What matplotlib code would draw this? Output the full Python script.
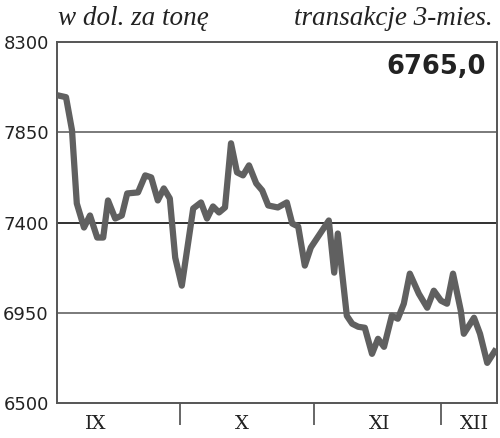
import matplotlib
matplotlib.use("Agg")
import matplotlib.pyplot as plt

# trading-day positions and prices (USD per tonne)
days = [0, 1.5, 2.5, 3.3, 4.5, 5.5, 6.7, 7.7, 8.5, 9.7, 10.8, 11.7, 13.5, 14.7, 15.7,
        16.8, 17.8, 18.8, 19.7, 20.8, 22.7, 24, 25, 26, 27, 28, 29, 30, 31, 32,
        33.2, 34.2, 35.2, 36.8, 38.3, 39.2, 40.2, 41.3, 42.3, 45.3, 46.2, 46.8,
        48.3, 49.2, 50.2, 51.3, 52.5, 53.5, 54.5, 55.8, 56.8, 57.8, 58.8, 60.3,
        61.7, 62.8, 64, 65, 66, 67.3, 67.8, 69.5, 70.5, 71.7, 73.2]
prices = [8035, 8025, 7860, 7495, 7375, 7435, 7325, 7325, 7510, 7420, 7435, 7545, 7550, 7635, 7625,
          7510, 7570, 7520, 7225, 7085, 7470, 7500, 7420, 7480, 7450, 7475, 7795, 7650, 7635, 7685,
          7595, 7560, 7485, 7475, 7500, 7395, 7380, 7185, 7275, 7410, 7150, 7345,
          6935, 6895, 6880, 6875, 6745, 6820, 6780, 6935, 6920, 6995, 7145, 7045,
          6975, 7060, 7010, 6995, 7145, 6960, 6845, 6925, 6845, 6700, 6770]

month_labels = ["IX", "X", "XI", "XII"]
month_label_pos = [6.5, 30.8, 53.8, 69.5]
month_bounds = [20.5, 42.83, 64]
y_ticks = [6500, 6950, 7400, 7850, 8300]
last_value = "6765,0"

fig = plt.figure(figsize=(5.0, 4.38), dpi=100)
ax = fig.add_axes([0.114, 0.080, 0.880, 0.824])

ax.set_xlim(0, 73.33)
ax.set_ylim(6500, 8300)

for y, c in zip([6950, 7400, 7850], ["#707070", "#202020", "#707070"]):
    ax.axhline(y, color=c, lw=1.3, zorder=1)

ax.plot(days, prices, color="#606060", lw=4.5, solid_joinstyle="round",
        solid_capstyle="butt", zorder=3)

for s in ax.spines.values():
    s.set_color("#555555")
    s.set_linewidth(1.4)

ax.set_yticks(y_ticks)
ax.set_yticklabels([str(v) for v in y_ticks], family="DejaVu Sans", fontsize=13,
                   color="#222222")
ax.tick_params(axis="y", length=0, pad=6)

ax.set_xticks(month_label_pos)
ax.set_xticklabels(month_labels, family="DejaVu Serif", fontsize=14, color="#222222")
ax.tick_params(axis="x", which="major", length=0, pad=9)
ax.set_xticks(month_bounds, minor=True)
ax.tick_params(axis="x", which="minor", length=16, width=1.4, color="#666666",
               direction="out")

fig.text(0.116, 0.958, "w dol. za tonę", family="Liberation Serif", style="italic",
         fontsize=19.5, color="#222222", ha="left", va="center")
fig.text(0.986, 0.958, "transakcje 3-mies.", family="Liberation Serif", style="italic",
         fontsize=19.5, color="#222222", ha="right", va="center")
ax.text(0.975, 0.93, last_value, transform=ax.transAxes, ha="right", va="center",
        family="DejaVu Sans", fontweight="bold", fontsize=18.5, color="#222222")

fig.savefig("out.png", dpi=100, facecolor="white")
